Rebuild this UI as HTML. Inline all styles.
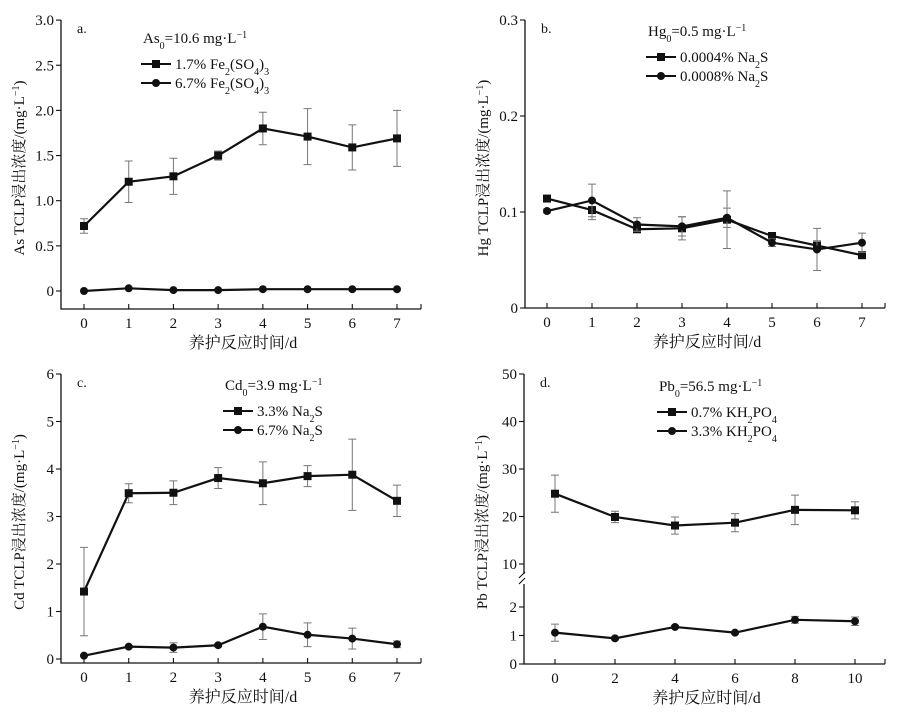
<!DOCTYPE html>
<html><head><meta charset="utf-8">
<style>
body{margin:0;background:#fff;}
svg{display:block;font-family:"Liberation Serif","Noto Serif CJK SC",serif;}
text{fill:#111;}
</style></head>
<body>
<svg id="fig" width="898" height="724" viewBox="0 0 898 724" xmlns="http://www.w3.org/2000/svg"></svg>
<script>
// Panel a data
const aDays=[0,1,2,3,4,5,6,7];
const aSq=[0.72,1.21,1.27,1.50,1.80,1.71,1.59,1.69];
const aSqErr=[0.08,0.23,0.2,0.05,0.18,0.31,0.25,0.31];
const aCi=[0,0.03,0.01,0.01,0.02,0.02,0.02,0.02];
const aCiErr=[0,0,0,0,0,0,0,0];
const aYTicks=[0,0.5,1.0,1.5,2.0,2.5,3.0];
const aYLabels=["0","0.5","1.0","1.5","2.0","2.5","3.0"];
// Panel b data
const bDays=[0,1,2,3,4,5,6,7];
const bSq=[0.114,0.102,0.082,0.083,0.092,0.075,0.065,0.055];
const bSqErr=[0.002,0.01,0.003,0.012,0.03,0.003,0.005,0.003];
const bCi=[0.101,0.112,0.087,0.085,0.094,0.068,0.061,0.068];
const bCiErr=[0.002,0.017,0.007,0.01,0.01,0.004,0.022,0.01];
const bYTicks=[0,0.1,0.2,0.3];
const bYLabels=["0","0.1","0.2","0.3"];
// Panel c data
const cDays=[0,1,2,3,4,5,6,7];
const cSq=[1.42,3.49,3.50,3.81,3.70,3.85,3.88,3.33];
const cSqErr=[0.93,0.2,0.25,0.22,0.45,0.22,0.75,0.33];
const cCi=[0.07,0.26,0.24,0.29,0.68,0.51,0.43,0.31];
const cCiErr=[0.02,0.03,0.1,0.03,0.27,0.25,0.22,0.07];
const cYTicks=[0,1,2,3,4,5,6];
const cYLabels=["0","1","2","3","4","5","6"];
// Panel d data
const dDays=[0,2,4,6,8,10];
const dSq=[24.8,19.9,18.1,18.7,21.4,21.3];
const dSqErr=[3.9,1.2,1.8,1.9,3.1,1.8];
const dCi=[1.1,0.9,1.3,1.1,1.55,1.5];
const dCiErr=[0.3,0.05,0.05,0.05,0.12,0.15];
const dYTicks=[0,1,2,10,20,30,40,50];
const dYLabels=["0","1","2","10","20","30","40","50"];

const NS="http://www.w3.org/2000/svg";
const svg=document.getElementById('fig');
function el(tag,attrs,parent){const e=document.createElementNS(NS,tag);for(const k in attrs)e.setAttribute(k,attrs[k]);(parent||svg).appendChild(e);return e;}

function panel(o){
  const g=el('g',{});
  
  
  const xs=v=>o.x0px+(v-o.xmin)*(o.x1px-o.x0px)/(o.xmax-o.xmin);
  const ys=o.ys;
  const ax=el('path',{d:`M${o.ax} ${o.top} V${o.bot} H${o.right}`,fill:'none',stroke:'#111','stroke-width':1.3},g);
  
  
  if(o.brk){
    el('rect',{x:o.ax-3,y:o.brk-5,width:6,height:10,fill:'#fff'},g);
    el('path',{d:`M${o.ax-5} ${o.brk-1} L${o.ax+1} ${o.brk-7} M${o.ax-5} ${o.brk+5} L${o.ax+1} ${o.brk-1}`,stroke:'#111','stroke-width':1.1},g);
  }
  o.yt.forEach((v,i)=>{
    const y=ys(v);
    el('line',{x1:o.ax-5,x2:o.ax,y1:y,y2:y,stroke:'#111','stroke-width':1.1},g);
    const t=el('text',{x:o.ax-7,y:y+5,'text-anchor':'end','font-size':15},g);
    t.textContent=o.yl[i];
    
    
  });
  o.xt.forEach(v=>{
    const x=xs(v);
    el('line',{x1:x,x2:x,y1:o.bot,y2:o.bot-5,stroke:'#111','stroke-width':1.1},g);
    const t=el('text',{x:x,y:o.bot+19,'text-anchor':'middle','font-size':15},g);
    t.textContent=String(v);
    
    
  });
  el('line',{x1:o.right,x2:o.right,y1:o.bot,y2:o.bot-5,stroke:'#111','stroke-width':1.1},g);
  [[o.sq,o.sqe,'sq'],[o.ci,o.cie,'ci']].forEach(([vals,errs,kind])=>{
    vals.forEach((v,i)=>{
      if(errs[i]>0){
        const x=xs(o.days[i]);
        const eb=el('path',{d:`M${x} ${ys(v-errs[i])} V${ys(v+errs[i])} M${x-4} ${ys(v-errs[i])} H${x+4} M${x-4} ${ys(v+errs[i])} H${x+4}`,stroke:'#777','stroke-width':1,fill:'none'},g);
        
        
      }
    });
    const pts=vals.map((v,i)=>xs(o.days[i])+','+ys(v)).join(' ');
    const pl=el('polyline',{points:pts,fill:'none',stroke:'#111','stroke-width':2.2},g);
    
    
    vals.forEach((v,i)=>{
      const x=xs(o.days[i]),y=ys(v);
      let m;
      if(kind==='sq') m=el('rect',{x:x-4,y:y-4,width:8,height:8,fill:'#111'},g);
      else m=el('circle',{cx:x,cy:y,r:4,fill:'#111'},g);
      
      
    });
  });
  const pl=el('text',{x:o.ax+16,y:o.top+13,'font-size':14},g);
  pl.textContent=o.id+'.';
  
  
  const lg=el('g',{},g);
  
  
  const lt=el('text',{x:o.lgx+2,y:o.lgy,'font-size':15},lg);
  lt.innerHTML=o.lgTitle;
  o.lgEntries.forEach((s,i)=>{
    const y=o.lgy+21+i*19;
    el('line',{x1:o.lgx,x2:o.lgx+30,y1:y,y2:y,stroke:'#111','stroke-width':2},lg);
    if(i===0) el('rect',{x:o.lgx+11,y:y-4,width:8,height:8,fill:'#111'},lg);
    else el('circle',{cx:o.lgx+15,cy:y,r:4,fill:'#111'},lg);
    const t=el('text',{x:o.lgx+34,y:y+5,'font-size':15},lg);
    t.innerHTML=s;
    
    
  });
  const xt=el('text',{x:(o.ax+o.right)/2+2,y:o.bot+39,'text-anchor':'middle','font-size':16},g);
  xt.textContent='养护反应时间/d';
  
  
  const cy=o.ytc;
  const yt=el('text',{x:0,y:0,'text-anchor':'middle','font-size':15,transform:`translate(${o.ax-37},${cy}) rotate(-90)`},g);
  yt.innerHTML=o.ytitle+' TCLP浸出浓度/(mg·L<tspan baseline-shift="super" font-size="10">−1</tspan>)';
  
  
}
const sub=s=>`<tspan baseline-shift="sub" font-size="10">${s}</tspan>`;
const sup=s=>`<tspan baseline-shift="super" font-size="10">${s}</tspan>`;

panel({id:'a',ax:61,top:20,bot:309,right:421,x0px:84,x1px:397,xmin:0,xmax:7,
  ys:v=>291-v*90.3,yt:aYTicks,yl:aYLabels,xt:aDays,days:aDays,sq:aSq,sqe:aSqErr,ci:aCi,cie:aCiErr,
  lgx:141,lgy:43,lgTitle:'As'+sub('0')+'=10.6 mg·L'+sup('−1'),
  lgEntries:['1.7% Fe'+sub('2')+'(SO'+sub('4')+')'+sub('3'),'6.7% Fe'+sub('2')+'(SO'+sub('4')+')'+sub('3')],
  ytitle:'As',ytc:168});
panel({id:'b',ax:525,top:20,bot:308,right:885,x0px:547,x1px:862,xmin:0,xmax:7,
  ys:v=>308-v*960,yt:bYTicks,yl:bYLabels,xt:bDays,days:bDays,sq:bSq,sqe:bSqErr,ci:bCi,cie:bCiErr,
  lgx:646,lgy:36,lgTitle:'Hg'+sub('0')+'=0.5 mg·L'+sup('−1'),
  lgEntries:['0.0004% Na'+sub('2')+'S','0.0008% Na'+sub('2')+'S'],
  ytitle:'Hg',ytc:168});
panel({id:'c',ax:61,top:374,bot:663,right:421,x0px:84,x1px:397,xmin:0,xmax:7,
  ys:v=>659-v*47.5,yt:cYTicks,yl:cYLabels,xt:cDays,days:cDays,sq:cSq,sqe:cSqErr,ci:cCi,cie:cCiErr,
  lgx:223,lgy:390,lgTitle:'Cd'+sub('0')+'=3.9 mg·L'+sup('−1'),
  lgEntries:['3.3% Na'+sub('2')+'S','6.7% Na'+sub('2')+'S'],
  ytitle:'Cd',ytc:522});
panel({id:'d',ax:524,top:374,bot:664,right:885,x0px:555,x1px:855,xmin:0,xmax:10,
  ys:v=>v<=5?664-v*28.5:564-(v-10)*4.75,yt:dYTicks,yl:dYLabels,xt:dDays,days:dDays,sq:dSq,sqe:dSqErr,ci:dCi,cie:dCiErr,
  brk:579,
  lgx:657,lgy:391,lgTitle:'Pb'+sub('0')+'=56.5 mg·L'+sup('−1'),
  lgEntries:['0.7% KH'+sub('2')+'PO'+sub('4'),'3.3% KH'+sub('2')+'PO'+sub('4')],
  ytitle:'Pb',ytc:522});
</script>
</body></html>
